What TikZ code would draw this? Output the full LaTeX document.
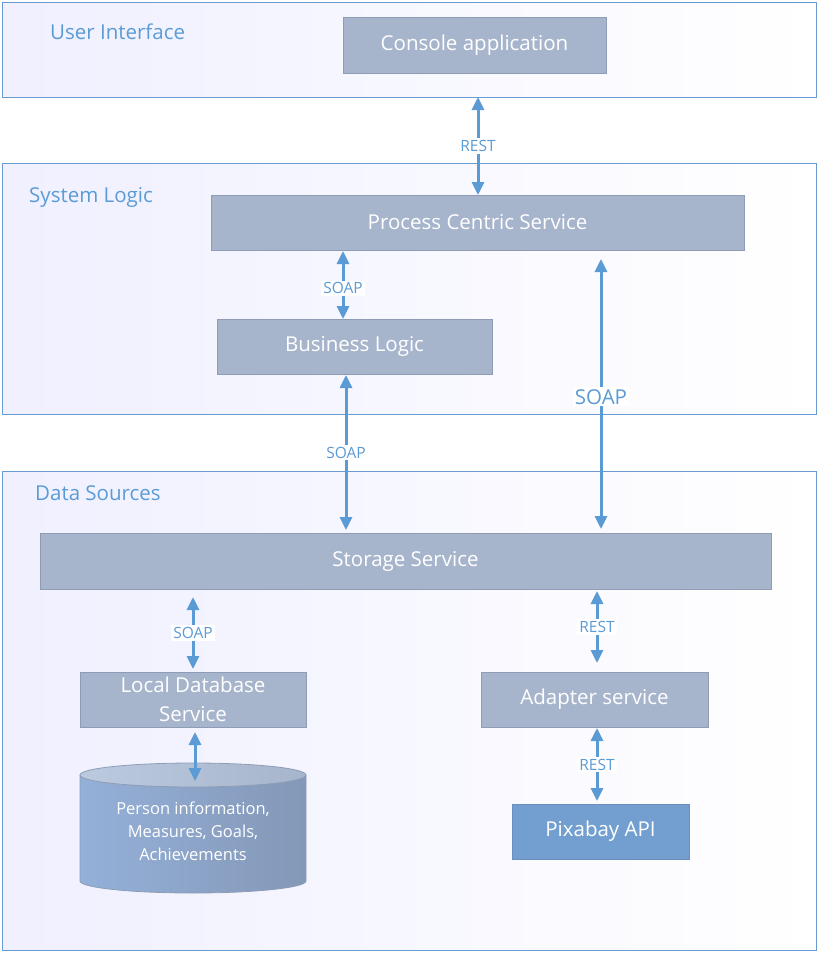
\documentclass[tikz,border=0pt]{standalone}
\usepackage{fontspec}
\setmainfont{Open Sans}
\usetikzlibrary{arrows.meta,shapes.geometric,calc}
\definecolor{lblue}{HTML}{5B9BD5}
\definecolor{layerb}{HTML}{6A9BD0}
\definecolor{boxfill}{HTML}{A7B5CC}
\definecolor{boxdraw}{HTML}{8E9DB5}
\definecolor{pixfill}{HTML}{729FCF}
\definecolor{pixdraw}{HTML}{6A8FBF}
\definecolor{cylleft}{HTML}{94B0D9}
\definecolor{cylright}{HTML}{8498B7}
\definecolor{cyltopl}{HTML}{BCCAE0}
\tikzset{
  layer/.style={draw=layerb,line width=0.9pt,left color=blue!6!white,right color=white,rectangle,inner sep=0pt},
  layertitle/.style={text=lblue,font=\fontsize{20.5}{24}\selectfont,anchor=west,inner sep=0pt},
  svc/.style={draw=boxdraw,fill=boxfill,line width=0.8pt,text=white,font=\fontsize{20.5}{29}\selectfont,align=center,inner sep=0pt},
  arr/.style={draw=lblue,line width=3pt,{Triangle[width=12pt,length=13pt]}-{Triangle[width=12pt,length=13pt]}},
  lbl/.style={fill=white,text=lblue,font=\fontsize{15.5}{18}\selectfont,inner sep=2pt},
  biglbl/.style={fill=white,text=lblue,font=\fontsize{20.5}{24}\selectfont,inner sep=2pt}
}
\begin{document}
\begin{tikzpicture}[x=1pt,y=-1pt]
\useasboundingbox[fill=white] (0,0) rectangle (818,953);
% layers
\node[layer,minimum width=814pt,minimum height=95pt] (ui) at (409,49.5) {};
\node[layer,minimum width=814pt,minimum height=251pt] (sys) at (409,288.5) {};
\node[layer,minimum width=814pt,minimum height=479pt] (ds) at (409,710.5) {};
\node[layertitle] (uit) at (50,32) {User Interface};
\node[layertitle] (syst) at (29,197) {System Logic};
\node[layertitle] (dst) at (35,493) {Data Sources};
% services
\node[svc,minimum width=263pt,minimum height=56pt] (console) at (474.5,45) {Console application};
\node[svc,minimum width=533pt,minimum height=55pt] (pcs) at (477.5,222.5) {Process Centric Service};
\node[svc,minimum width=275pt,minimum height=55pt] (bl) at (354.5,346.5) {Business Logic};
\node[svc,minimum width=731pt,minimum height=56pt] (storage) at (405.5,561) {Storage Service};
\node[svc,minimum width=226pt,minimum height=55pt] (ldb) at (193,699.5) {Local Database\\Service};
\node[svc,minimum width=227pt,minimum height=55pt] (adapter) at (594.5,699.5) {Adapter service};
\node[svc,fill=pixfill,draw=pixdraw,minimum width=177pt,minimum height=55pt] (pix) at (600.5,831.5) {Pixabay API};
% database cylinder
\shade[left color=cylleft,right color=cylright,draw=boxdraw,line width=0.8pt]
  (80,775) -- (80,881) arc[start angle=180,end angle=360,x radius=113pt,y radius=12pt] -- (306,775) -- cycle;
\shade[left color=cyltopl,right color=boxfill,draw=boxdraw,line width=0.8pt]
  (193,775) ellipse[x radius=113pt,y radius=12pt];
\node[text=white,font=\fontsize{16.5}{23}\selectfont,align=center,inner sep=0pt] (db) at (193,831) {Person information,\\Measures, Goals,\\Achievements};
\coordinate (dbtop) at (195,781);
% connector coordinates
\coordinate (a1) at (478,97);
\coordinate (a2) at (478,195);
\coordinate (b1) at (343,251);
\coordinate (b2) at (343,319);
\coordinate (c1) at (346,375);
\coordinate (c2) at (346,530);
\coordinate (d1) at (601,259);
\coordinate (d2) at (601,529);
\coordinate (e1) at (193,597);
\coordinate (e2) at (193,669);
\coordinate (f1) at (195,732);
\coordinate (g1) at (597,591);
\coordinate (g2) at (597,663);
\coordinate (h1) at (597,728);
\coordinate (h2) at (597,801);
% connectors
\draw[arr] (a1) -- node[lbl] (l1) {REST} (a2);
\draw[arr] (b1) -- node[lbl,pos=0.55] (l2) {SOAP} (b2);
\draw[arr] (c1) -- node[lbl] (l3) {SOAP} (c2);
\draw[arr] (d1) -- node[biglbl,pos=0.51] (l4) {SOAP} (d2);
\draw[arr] (e1) -- node[lbl] (l5) {SOAP} (e2);
\draw[arr] (f1) -- (dbtop);
\draw[arr] (g1) -- node[lbl,pos=0.5] (l6) {REST} (g2);
\draw[arr] (h1) -- node[lbl] (l7) {REST} (h2);
\end{tikzpicture}
\end{document}
